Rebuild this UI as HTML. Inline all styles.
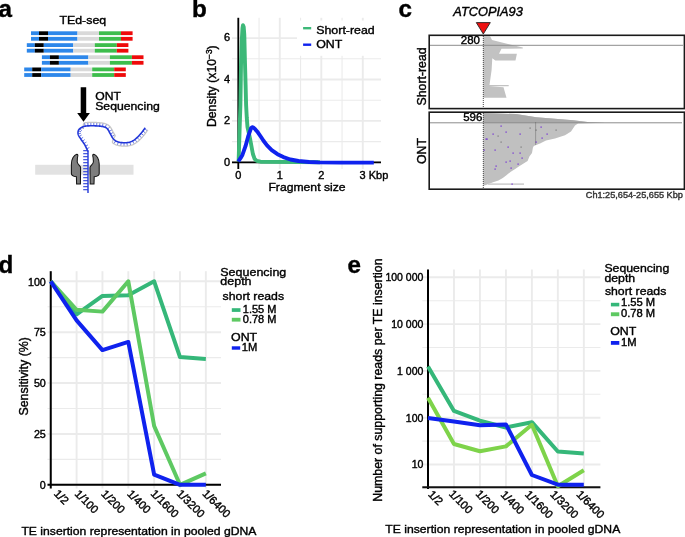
<!DOCTYPE html>
<html><head><meta charset="utf-8"><title>Figure</title>
<style>
html,body{margin:0;padding:0;background:#fff;}
body{width:685px;height:537px;overflow:hidden;}
svg{display:block;font-family:"Liberation Sans", sans-serif;will-change:transform;}
</style></head><body>
<svg width="685" height="537" viewBox="0 0 685 537">
<rect width="685" height="537" fill="#fff"/>
<text x="-1.50" y="17.10" font-size="24.2" font-weight="bold" stroke="#000" stroke-width="0.4">a</text>
<text x="59.40" y="24.30" font-size="12.4" stroke="#000" stroke-width="0.4" transform="matrix(1 0 0 0.93 0 1.701)">TEd-seq</text>
<rect x="31.00" y="31.30" width="8.00" height="3.80" fill="#2d87ea"/>
<rect x="39.00" y="31.30" width="9.00" height="3.80" fill="#000"/>
<rect x="48.00" y="31.30" width="29.50" height="3.80" fill="#2d87ea"/>
<rect x="77.50" y="31.30" width="21.50" height="3.80" fill="#d9d9d9"/>
<rect x="99.00" y="31.30" width="22.00" height="3.80" fill="#3dbd4c"/>
<rect x="121.00" y="31.30" width="11.60" height="3.80" fill="#ee0a0a"/>
<rect x="31.00" y="36.90" width="8.00" height="3.80" fill="#2d87ea"/>
<rect x="39.00" y="36.90" width="9.00" height="3.80" fill="#000"/>
<rect x="48.00" y="36.90" width="29.50" height="3.80" fill="#2d87ea"/>
<rect x="77.50" y="36.90" width="21.50" height="3.80" fill="#d9d9d9"/>
<rect x="99.00" y="36.90" width="22.00" height="3.80" fill="#3dbd4c"/>
<rect x="121.00" y="36.90" width="11.60" height="3.80" fill="#ee0a0a"/>
<rect x="26.80" y="43.20" width="8.00" height="3.80" fill="#2d87ea"/>
<rect x="34.80" y="43.20" width="9.00" height="3.80" fill="#000"/>
<rect x="43.80" y="43.20" width="29.50" height="3.80" fill="#2d87ea"/>
<rect x="73.30" y="43.20" width="21.50" height="3.80" fill="#d9d9d9"/>
<rect x="94.80" y="43.20" width="22.00" height="3.80" fill="#3dbd4c"/>
<rect x="116.80" y="43.20" width="11.60" height="3.80" fill="#ee0a0a"/>
<rect x="26.80" y="48.80" width="8.00" height="3.80" fill="#2d87ea"/>
<rect x="34.80" y="48.80" width="9.00" height="3.80" fill="#000"/>
<rect x="43.80" y="48.80" width="29.50" height="3.80" fill="#2d87ea"/>
<rect x="73.30" y="48.80" width="21.50" height="3.80" fill="#d9d9d9"/>
<rect x="94.80" y="48.80" width="22.00" height="3.80" fill="#3dbd4c"/>
<rect x="116.80" y="48.80" width="11.60" height="3.80" fill="#ee0a0a"/>
<rect x="41.90" y="55.30" width="8.00" height="3.80" fill="#2d87ea"/>
<rect x="49.90" y="55.30" width="9.00" height="3.80" fill="#000"/>
<rect x="58.90" y="55.30" width="29.50" height="3.80" fill="#2d87ea"/>
<rect x="88.40" y="55.30" width="21.50" height="3.80" fill="#d9d9d9"/>
<rect x="109.90" y="55.30" width="22.00" height="3.80" fill="#3dbd4c"/>
<rect x="131.90" y="55.30" width="11.60" height="3.80" fill="#ee0a0a"/>
<rect x="41.90" y="60.90" width="8.00" height="3.80" fill="#2d87ea"/>
<rect x="49.90" y="60.90" width="9.00" height="3.80" fill="#000"/>
<rect x="58.90" y="60.90" width="29.50" height="3.80" fill="#2d87ea"/>
<rect x="88.40" y="60.90" width="21.50" height="3.80" fill="#d9d9d9"/>
<rect x="109.90" y="60.90" width="22.00" height="3.80" fill="#3dbd4c"/>
<rect x="131.90" y="60.90" width="11.60" height="3.80" fill="#ee0a0a"/>
<rect x="24.20" y="67.50" width="8.00" height="3.80" fill="#2d87ea"/>
<rect x="32.20" y="67.50" width="9.00" height="3.80" fill="#000"/>
<rect x="41.20" y="67.50" width="29.50" height="3.80" fill="#2d87ea"/>
<rect x="70.70" y="67.50" width="21.50" height="3.80" fill="#d9d9d9"/>
<rect x="92.20" y="67.50" width="22.00" height="3.80" fill="#3dbd4c"/>
<rect x="114.20" y="67.50" width="11.60" height="3.80" fill="#ee0a0a"/>
<rect x="24.20" y="73.10" width="8.00" height="3.80" fill="#2d87ea"/>
<rect x="32.20" y="73.10" width="9.00" height="3.80" fill="#000"/>
<rect x="41.20" y="73.10" width="29.50" height="3.80" fill="#2d87ea"/>
<rect x="70.70" y="73.10" width="21.50" height="3.80" fill="#d9d9d9"/>
<rect x="92.20" y="73.10" width="22.00" height="3.80" fill="#3dbd4c"/>
<rect x="114.20" y="73.10" width="11.60" height="3.80" fill="#ee0a0a"/>
<path d="M80.7,87.3 H86.2 V113.1 H89.9 L83.5,121.8 L77.2,113.1 H80.7 Z" fill="#000"/>
<text x="95.20" y="99.60" font-size="12.2" stroke="#000" stroke-width="0.4" transform="matrix(1 0 0 0.93 0 6.972)">ONT</text>
<text x="95.20" y="109.90" font-size="12.25" stroke="#000" stroke-width="0.4" transform="matrix(1 0 0 0.93 0 7.693)">Sequencing</text>
<rect x="35.20" y="164.80" width="98.30" height="9.90" fill="#e2e2e2"/>
<polyline points="83.27,129.06 83.19,127.87 83.15,126.54 83.28,125.19 83.57,124.01 84.01,123.16 84.57,122.82 85.17,122.73 85.76,122.65 86.26,122.60 86.83,122.55 87.40,122.51 87.95,122.48 88.50,122.45 89.00,122.43 89.54,122.42 90.06,122.41 90.59,122.40 91.10,122.40 91.63,122.39 92.13,122.40 92.66,122.40 93.16,122.41 93.69,122.42 94.21,122.43 94.72,122.44 95.24,122.45 95.74,122.47 96.28,122.49 96.78,122.51 97.31,122.54 97.81,122.57 98.36,122.60 98.86,122.63 99.41,122.68 99.97,122.73 100.47,122.78 101.02,122.85 101.57,122.92 102.14,123.00 102.71,123.09 103.20,123.18 103.79,123.30 104.38,123.44 104.97,123.60 105.58,123.79 106.18,124.01 106.91,124.32 107.53,124.63 108.37,125.16 108.95,125.63 109.61,126.26 110.02,126.74 110.39,127.20 110.78,127.72 111.16,128.30 111.49,128.85 111.78,129.37 112.04,129.86 112.29,130.33 112.52,130.78 112.75,131.22 112.97,131.65 113.18,132.05 113.38,132.41 113.62,132.84 113.90,133.32 114.15,133.78 114.39,134.22 114.63,134.65 114.86,135.06 115.07,135.43 115.17,135.85 114.85,136.51 114.26,137.42 113.60,138.52 113.02,139.75 112.60,140.96 112.45,142.02 112.64,142.77 113.15,143.19 113.83,143.64 114.39,143.97 114.97,144.28 115.56,144.55 116.15,144.80 116.75,145.02 117.35,145.22 117.83,145.36 118.44,145.51 119.04,145.65 119.64,145.76 120.24,145.86 120.84,145.94 121.43,146.01 122.02,146.06 122.52,146.09 123.10,146.11 123.66,146.13 124.23,146.14 124.73,146.14 125.31,146.13 125.89,146.11 126.48,146.08 126.98,146.04 127.59,145.98 128.21,145.91 128.85,145.81 129.34,145.72 130.00,145.58 130.64,145.41 131.26,145.22 131.73,145.06 132.34,144.83 132.93,144.58 133.52,144.31 134.09,144.02 134.64,143.72 135.07,143.46 135.60,143.13 136.10,142.79 136.59,142.45 136.99,142.15 137.48,141.78 137.97,141.38 138.43,140.99 138.80,140.66 139.23,140.26 139.59,139.91 140.00,139.51 140.40,139.12 140.75,138.76 141.14,138.36 141.51,137.96 141.85,137.59 142.21,137.20 142.55,136.83 142.90,136.43 143.28,136.00 143.60,135.62 143.98,135.16 144.29,134.77 144.64,134.32 144.97,133.89 145.27,133.49 145.59,133.06 145.89,132.65 146.20,132.23 146.49,131.82 146.79,131.40 147.09,130.99 147.37,130.59 147.66,130.19 147.94,129.82" fill="none" stroke="#c8c8c8" stroke-width="1.3" stroke-linejoin="round"/>
<line x1="86.72" y1="148.79" x2="89.34" y2="147.56" stroke="#3a4edc" stroke-width="0.75"/>
<line x1="85.46" y1="146.17" x2="88.03" y2="144.85" stroke="#3a4edc" stroke-width="0.75"/>
<line x1="84.03" y1="143.65" x2="86.44" y2="142.06" stroke="#3a4edc" stroke-width="0.75"/>
<line x1="82.36" y1="141.28" x2="84.70" y2="139.58" stroke="#3a4edc" stroke-width="0.75"/>
<line x1="80.70" y1="138.90" x2="83.12" y2="137.33" stroke="#3a4edc" stroke-width="0.75"/>
<line x1="79.15" y1="136.46" x2="81.64" y2="135.00" stroke="#3a4edc" stroke-width="0.75"/>
<line x1="78.07" y1="133.79" x2="80.92" y2="133.33" stroke="#3a4edc" stroke-width="0.75"/>
<line x1="78.26" y1="130.92" x2="81.04" y2="131.71" stroke="#3a4edc" stroke-width="0.75"/>
<line x1="79.90" y1="128.59" x2="81.71" y2="130.85" stroke="#3a4edc" stroke-width="0.75"/>
<line x1="82.34" y1="127.03" x2="83.13" y2="128.61" stroke="#3a4edc" stroke-width="0.75"/>
<line x1="85.11" y1="126.18" x2="84.63" y2="123.33" stroke="#3a4edc" stroke-width="0.75"/>
<line x1="87.99" y1="125.88" x2="87.85" y2="122.99" stroke="#3a4edc" stroke-width="0.75"/>
<line x1="90.89" y1="125.80" x2="90.87" y2="122.91" stroke="#3a4edc" stroke-width="0.75"/>
<line x1="93.79" y1="125.82" x2="93.84" y2="122.93" stroke="#3a4edc" stroke-width="0.75"/>
<line x1="96.69" y1="125.91" x2="96.81" y2="123.03" stroke="#3a4edc" stroke-width="0.75"/>
<line x1="99.58" y1="126.11" x2="99.88" y2="123.23" stroke="#3a4edc" stroke-width="0.75"/>
<line x1="102.45" y1="126.50" x2="102.97" y2="123.66" stroke="#3a4edc" stroke-width="0.75"/>
<line x1="105.23" y1="127.30" x2="106.35" y2="124.63" stroke="#3a4edc" stroke-width="0.75"/>
<line x1="107.51" y1="129.03" x2="109.73" y2="127.18" stroke="#3a4edc" stroke-width="0.75"/>
<line x1="109.05" y1="131.48" x2="111.61" y2="130.14" stroke="#3a4edc" stroke-width="0.75"/>
<line x1="110.40" y1="134.05" x2="112.91" y2="132.62" stroke="#3a4edc" stroke-width="0.75"/>
<line x1="111.81" y1="136.58" x2="114.33" y2="135.17" stroke="#3a4edc" stroke-width="0.75"/>
<line x1="115.69" y1="140.79" x2="114.21" y2="143.27" stroke="#3a4edc" stroke-width="0.75"/>
<line x1="118.34" y1="141.96" x2="117.53" y2="144.74" stroke="#3a4edc" stroke-width="0.75"/>
<line x1="121.17" y1="142.56" x2="120.83" y2="145.43" stroke="#3a4edc" stroke-width="0.75"/>
<line x1="124.06" y1="142.74" x2="124.00" y2="145.63" stroke="#3a4edc" stroke-width="0.75"/>
<line x1="126.96" y1="142.63" x2="127.26" y2="145.50" stroke="#3a4edc" stroke-width="0.75"/>
<line x1="129.81" y1="142.11" x2="130.62" y2="144.88" stroke="#3a4edc" stroke-width="0.75"/>
<line x1="132.49" y1="141.02" x2="133.87" y2="143.56" stroke="#3a4edc" stroke-width="0.75"/>
<line x1="134.93" y1="139.45" x2="136.63" y2="141.79" stroke="#3a4edc" stroke-width="0.75"/>
<line x1="137.13" y1="137.57" x2="139.11" y2="139.67" stroke="#3a4edc" stroke-width="0.75"/>
<line x1="139.16" y1="135.50" x2="141.28" y2="137.46" stroke="#3a4edc" stroke-width="0.75"/>
<line x1="141.08" y1="133.33" x2="143.29" y2="135.20" stroke="#3a4edc" stroke-width="0.75"/>
<line x1="142.86" y1="131.04" x2="145.19" y2="132.75" stroke="#3a4edc" stroke-width="0.75"/>
<line x1="144.56" y1="128.69" x2="146.91" y2="130.37" stroke="#3a4edc" stroke-width="0.75"/>
<polyline points="88.00,151.50 87.97,151.43 87.94,151.36 87.91,151.29 87.87,151.20 87.82,151.10 87.76,150.97 87.69,150.80 87.59,150.59 87.46,150.32 87.30,150.00 87.11,149.61 86.89,149.14 86.65,148.62 86.38,148.05 86.09,147.45 85.79,146.83 85.48,146.20 85.16,145.58 84.83,144.97 84.50,144.40 84.15,143.84 83.78,143.28 83.39,142.71 82.99,142.14 82.58,141.58 82.17,141.02 81.78,140.47 81.39,139.93 81.03,139.41 80.70,138.90 80.39,138.41 80.07,137.93 79.77,137.46 79.48,137.00 79.20,136.55 78.94,136.11 78.71,135.67 78.51,135.25 78.33,134.82 78.20,134.40 78.10,133.98 78.03,133.56 78.00,133.14 77.98,132.73 78.00,132.33 78.04,131.93 78.10,131.55 78.18,131.18 78.28,130.83 78.40,130.50 78.54,130.19 78.70,129.90 78.89,129.62 79.10,129.36 79.33,129.11 79.57,128.88 79.83,128.65 80.11,128.43 80.40,128.21 80.70,128.00 81.01,127.79 81.33,127.59 81.66,127.39 82.00,127.20 82.36,127.03 82.74,126.86 83.14,126.70 83.57,126.55 84.02,126.42 84.50,126.30 85.00,126.20 85.53,126.11 86.07,126.04 86.64,125.98 87.23,125.92 87.85,125.88 88.49,125.85 89.16,125.83 89.87,125.81 90.60,125.80 91.39,125.79 92.26,125.80 93.17,125.81 94.12,125.82 95.09,125.85 96.05,125.88 96.99,125.93 97.89,125.98 98.74,126.03 99.50,126.10 100.20,126.17 100.86,126.25 101.48,126.34 102.07,126.43 102.63,126.53 103.16,126.64 103.66,126.76 104.13,126.90 104.57,127.04 105.00,127.20 105.39,127.36 105.73,127.52 106.04,127.69 106.31,127.87 106.57,128.06 106.81,128.27 107.05,128.50 107.28,128.76 107.53,129.06 107.80,129.40 108.08,129.79 108.36,130.23 108.64,130.71 108.92,131.22 109.20,131.76 109.48,132.30 109.76,132.85 110.04,133.39 110.32,133.91 110.60,134.40 110.88,134.88 111.14,135.36 111.41,135.84 111.67,136.32 111.93,136.79 112.20,137.25 112.48,137.70 112.77,138.12 113.08,138.53 113.40,138.90 113.74,139.25 114.08,139.58 114.44,139.89 114.80,140.19 115.18,140.46 115.57,140.72 115.98,140.96 116.40,141.19 116.84,141.40 117.30,141.60 117.78,141.78 118.28,141.95 118.79,142.10 119.33,142.23 119.87,142.35 120.44,142.45 121.01,142.54 121.60,142.61 122.19,142.66 122.80,142.70 123.43,142.73 124.08,142.74 124.76,142.74 125.45,142.73 126.15,142.69 126.85,142.64 127.54,142.57 128.22,142.47 128.87,142.35 129.50,142.20 130.10,142.03 130.68,141.83 131.24,141.61 131.78,141.38 132.32,141.11 132.85,140.82 133.38,140.51 133.91,140.17 134.45,139.80 135.00,139.40 135.56,138.96 136.13,138.48 136.70,137.97 137.28,137.42 137.86,136.86 138.43,136.27 138.99,135.68 139.54,135.08 140.08,134.49 140.60,133.90 141.12,133.29 141.66,132.62 142.20,131.92 142.73,131.21 143.25,130.51 143.74,129.83 144.19,129.20 144.59,128.64 144.93,128.17 145.20,127.80" fill="none" stroke="#2237d8" stroke-width="1.6" stroke-linejoin="round"/>
<line x1="88.00" y1="150.50" x2="88.00" y2="193.00" stroke="#2237d8" stroke-width="1.4"/>
<line x1="83.20" y1="150.70" x2="88.00" y2="150.70" stroke="#2a3ed8" stroke-width="1.1"/>
<line x1="83.20" y1="153.70" x2="88.00" y2="153.70" stroke="#2a3ed8" stroke-width="1.1"/>
<line x1="83.20" y1="156.70" x2="88.00" y2="156.70" stroke="#2a3ed8" stroke-width="1.1"/>
<line x1="83.20" y1="159.70" x2="88.00" y2="159.70" stroke="#2a3ed8" stroke-width="1.1"/>
<line x1="83.20" y1="162.70" x2="88.00" y2="162.70" stroke="#2a3ed8" stroke-width="1.1"/>
<line x1="83.20" y1="165.70" x2="88.00" y2="165.70" stroke="#2a3ed8" stroke-width="1.1"/>
<line x1="83.20" y1="168.70" x2="88.00" y2="168.70" stroke="#2a3ed8" stroke-width="1.1"/>
<line x1="83.20" y1="171.70" x2="88.00" y2="171.70" stroke="#2a3ed8" stroke-width="1.1"/>
<line x1="83.20" y1="174.70" x2="88.00" y2="174.70" stroke="#2a3ed8" stroke-width="1.1"/>
<line x1="83.20" y1="177.70" x2="88.00" y2="177.70" stroke="#2a3ed8" stroke-width="1.1"/>
<line x1="83.20" y1="180.70" x2="88.00" y2="180.70" stroke="#2a3ed8" stroke-width="1.1"/>
<line x1="83.20" y1="183.70" x2="88.00" y2="183.70" stroke="#2a3ed8" stroke-width="1.1"/>
<line x1="83.20" y1="186.70" x2="88.00" y2="186.70" stroke="#2a3ed8" stroke-width="1.1"/>
<line x1="83.20" y1="189.70" x2="88.00" y2="189.70" stroke="#2a3ed8" stroke-width="1.1"/>
<path d="M76.8,154.2 C74,155 71.4,159 71.4,164 L71.4,173.5 C71.4,175.5 74,176.5 76.4,176.8 L76.6,183.9 L80.4,183.9 L80.6,167.5 C80.6,165.5 77.4,164.5 77.2,162 L77.4,158.2 C77.6,156.5 78.6,154.2 76.8,154.2 Z" fill="#7e7e7e" stroke="#151515" stroke-width="1.05"/>
<g transform="translate(170.6,0) scale(-1,1)"><path d="M76.8,154.2 C74,155 71.4,159 71.4,164 L71.4,173.5 C71.4,175.5 74,176.5 76.4,176.8 L76.6,183.9 L80.4,183.9 L80.6,167.5 C80.6,165.5 77.4,164.5 77.2,162 L77.4,158.2 C77.6,156.5 78.6,154.2 76.8,154.2 Z" fill="#7e7e7e" stroke="#151515" stroke-width="1.05"/></g>
<text x="192.00" y="17.10" font-size="24.2" font-weight="bold" stroke="#000" stroke-width="0.4">b</text>
<line x1="232.00" y1="162.30" x2="381.00" y2="162.30" stroke="#ebebeb" stroke-width="1.9"/>
<line x1="232.00" y1="141.60" x2="381.00" y2="141.60" stroke="#ebebeb" stroke-width="1.1"/>
<line x1="232.00" y1="120.90" x2="381.00" y2="120.90" stroke="#ebebeb" stroke-width="1.9"/>
<line x1="232.00" y1="100.20" x2="381.00" y2="100.20" stroke="#ebebeb" stroke-width="1.1"/>
<line x1="232.00" y1="79.50" x2="381.00" y2="79.50" stroke="#ebebeb" stroke-width="1.9"/>
<line x1="232.00" y1="58.80" x2="381.00" y2="58.80" stroke="#ebebeb" stroke-width="1.1"/>
<line x1="232.00" y1="38.10" x2="381.00" y2="38.10" stroke="#ebebeb" stroke-width="1.9"/>
<line x1="238.30" y1="17.80" x2="238.30" y2="169.00" stroke="#ebebeb" stroke-width="1.9"/>
<line x1="259.05" y1="17.80" x2="259.05" y2="169.00" stroke="#ebebeb" stroke-width="1.1"/>
<line x1="279.80" y1="17.80" x2="279.80" y2="169.00" stroke="#ebebeb" stroke-width="1.9"/>
<line x1="300.55" y1="17.80" x2="300.55" y2="169.00" stroke="#ebebeb" stroke-width="1.1"/>
<line x1="321.30" y1="17.80" x2="321.30" y2="169.00" stroke="#ebebeb" stroke-width="1.9"/>
<line x1="342.05" y1="17.80" x2="342.05" y2="169.00" stroke="#ebebeb" stroke-width="1.1"/>
<line x1="362.80" y1="17.80" x2="362.80" y2="169.00" stroke="#ebebeb" stroke-width="1.9"/>
<rect x="297.00" y="20.60" width="88.00" height="35.20" fill="#fff"/>
<line x1="238.30" y1="17.80" x2="238.30" y2="169.00" stroke="#000" stroke-width="1.8"/>
<line x1="232.00" y1="162.30" x2="381.00" y2="162.30" stroke="#000" stroke-width="1.8"/>
<polyline points="238.60,161.50 239.60,130.00 240.40,105.00 241.00,65.00 241.80,40.00 242.50,28.00 243.00,25.20 243.70,27.00 244.30,35.00 244.90,60.00 245.60,85.00 246.10,105.00 246.80,118.00 247.50,127.00 250.30,140.00 252.90,154.00 254.60,158.80 256.80,160.90 260.50,161.70 300.00,162.00 320.00,162.20" fill="none" stroke="#3cb878" stroke-width="3.9" stroke-linejoin="round"/>
<polyline points="238.30,161.50 240.50,158.20 242.50,154.70 245.50,146.20 248.50,135.30 251.00,128.30 252.20,127.20 253.50,127.60 255.20,129.20 258.00,132.60 260.70,136.50 263.50,140.80 267.00,145.40 271.70,150.10 277.50,154.20 283.40,157.10 290.40,159.50 298.50,161.00 309.00,162.00 318.40,162.40 340.00,162.60 373.80,162.60" fill="none" stroke="#0f22ee" stroke-width="3.9" stroke-linejoin="round"/>
<text x="230.00" y="165.50" font-size="11" text-anchor="end" stroke="#000" stroke-width="0.4" transform="matrix(1 0 0 0.93 0 11.585)">0</text>
<text x="230.00" y="124.10" font-size="11" text-anchor="end" stroke="#000" stroke-width="0.4" transform="matrix(1 0 0 0.93 0 8.687)">2</text>
<text x="230.00" y="82.70" font-size="11" text-anchor="end" stroke="#000" stroke-width="0.4" transform="matrix(1 0 0 0.93 0 5.789)">4</text>
<text x="230.00" y="41.30" font-size="11" text-anchor="end" stroke="#000" stroke-width="0.4" transform="matrix(1 0 0 0.93 0 2.891)">6</text>
<text x="238.30" y="178.80" font-size="11" text-anchor="middle" stroke="#000" stroke-width="0.4" transform="matrix(1 0 0 0.93 0 12.516)">0</text>
<text x="279.80" y="178.80" font-size="11" text-anchor="middle" stroke="#000" stroke-width="0.4" transform="matrix(1 0 0 0.93 0 12.516)">1</text>
<text x="321.30" y="178.80" font-size="11" text-anchor="middle" stroke="#000" stroke-width="0.4" transform="matrix(1 0 0 0.93 0 12.516)">2</text>
<text x="359.60" y="178.80" font-size="11" stroke="#000" stroke-width="0.4" transform="matrix(1 0 0 0.93 0 12.516)">3 Kbp</text>
<text x="307.00" y="190.60" font-size="12.2" text-anchor="middle" stroke="#000" stroke-width="0.4" transform="matrix(1 0 0 0.93 0 13.342)">Fragment size</text>
<text x="215.90" y="86.20" font-size="12.25" text-anchor="middle" stroke="#000" stroke-width="0.4" transform="rotate(-90 215.90 86.20)">Density (x10<tspan font-size="8.3" dy="-3.6">−3</tspan><tspan dy="3.6">)</tspan></text>
<line x1="303.10" y1="28.20" x2="311.20" y2="28.20" stroke="#3cb878" stroke-width="2.4"/>
<line x1="303.10" y1="44.70" x2="311.20" y2="44.70" stroke="#0f22ee" stroke-width="2.4"/>
<text x="316.20" y="33.80" font-size="12.4" stroke="#000" stroke-width="0.4" transform="matrix(1 0 0 0.93 0 2.366)">Short-read</text>
<text x="316.20" y="48.50" font-size="12.4" stroke="#000" stroke-width="0.4" transform="matrix(1 0 0 0.93 0 3.395)">ONT</text>
<text x="398.60" y="17.10" font-size="24.2" font-weight="bold" stroke="#000" stroke-width="0.4">c</text>
<text x="453.30" y="16.40" font-size="12.8" font-style="italic" stroke="#000" stroke-width="0.4" transform="matrix(1 0 0 0.93 0 1.148)">ATCOPIA93</text>
<rect x="429.2" y="35.3" width="255.2" height="73.3" fill="#fff" stroke="#1a1a1a" stroke-width="1.6"/>
<rect x="429.2" y="112.2" width="255.2" height="77.0" fill="#fff" stroke="#1a1a1a" stroke-width="1.6"/>
<path d="M483.3,36 L490,36 L492,40 L522.8,47.6 L522.8,48.6 L501.5,48.8 L499,53.8 L516.9,53.8 L515.5,60.5 L495.3,60.5 L492.3,58.3 L491.6,70 L489.5,85 L508.7,85 L508.7,86.2 L489.4,86.2 L503.5,87.3 L506.5,97.7 L483.3,97.7 Z" fill="#c2c2c2"/>
<line x1="430.00" y1="45.30" x2="683.00" y2="45.30" stroke="#8c8c8c" stroke-width="1.0"/>
<path d="M483.3,113.1 L515.9,114.1 L536.3,117.2 L573.1,120.3 L589.4,122.3 L604.8,122.8 L578,123.5 L575,125.4 L571,131.5 L565,135.2 L555,138.5 L546,140.5 L540,143.5 L535.6,145.3 L533.8,146 L532.9,147.8 L532,153.1 L529.4,156.6 L527.6,161 L523.2,163.7 L518.8,166.4 L515.2,169 L510.8,171.7 L506.4,175.2 L502.8,177.9 L498.4,180.5 L493.1,182.3 L486,185 L483.3,185.8 Z" fill="#c0c0c0"/>
<path d="M483.3,113.1 L515.9,114.1 L536.3,117.2 L573.1,120.3 L589.4,122.3 L604.8,122.8 L483.3,122.8 Z" fill="#aaaaaa"/>
<rect x="488" y="183.4" width="36" height="1.4" fill="#c8c8c8"/>
<line x1="430.00" y1="122.80" x2="682.00" y2="122.80" stroke="#8c8c8c" stroke-width="1.0"/>
<rect x="500.50" y="125.50" width="1.20" height="1.20" fill="#6b22d6"/>
<rect x="492.50" y="133.50" width="1.20" height="1.20" fill="#6b22d6"/>
<rect x="505.50" y="131.50" width="1.20" height="1.20" fill="#6b22d6"/>
<rect x="519.50" y="133.50" width="1.20" height="1.20" fill="#6b22d6"/>
<rect x="485.50" y="138.50" width="1.20" height="1.20" fill="#6b22d6"/>
<rect x="540.50" y="126.50" width="1.20" height="1.20" fill="#6b22d6"/>
<rect x="546.50" y="133.50" width="1.20" height="1.20" fill="#6b22d6"/>
<rect x="541.50" y="137.50" width="1.20" height="1.20" fill="#6b22d6"/>
<rect x="535.50" y="141.50" width="1.20" height="1.20" fill="#6b22d6"/>
<rect x="507.50" y="146.50" width="1.20" height="1.20" fill="#6b22d6"/>
<rect x="494.50" y="149.50" width="1.20" height="1.20" fill="#6b22d6"/>
<rect x="483.50" y="149.50" width="1.20" height="1.20" fill="#6b22d6"/>
<rect x="512.50" y="152.50" width="1.20" height="1.20" fill="#6b22d6"/>
<rect x="519.50" y="152.50" width="1.20" height="1.20" fill="#6b22d6"/>
<rect x="521.50" y="157.50" width="1.20" height="1.20" fill="#6b22d6"/>
<rect x="509.50" y="160.50" width="1.20" height="1.20" fill="#6b22d6"/>
<rect x="505.50" y="161.50" width="1.20" height="1.20" fill="#6b22d6"/>
<rect x="517.50" y="163.50" width="1.20" height="1.20" fill="#6b22d6"/>
<rect x="495.50" y="165.50" width="1.20" height="1.20" fill="#6b22d6"/>
<rect x="510.50" y="167.50" width="1.20" height="1.20" fill="#6b22d6"/>
<rect x="494.50" y="168.50" width="1.20" height="1.20" fill="#6b22d6"/>
<rect x="511.50" y="183.50" width="1.20" height="1.20" fill="#6b22d6"/>
<rect x="486.50" y="138.50" width="1.20" height="1.20" fill="#6b22d6"/>
<rect x="535.50" y="129.50" width="1.20" height="1.20" fill="#777"/>
<rect x="555.50" y="129.50" width="1.20" height="1.20" fill="#777"/>
<rect x="500.50" y="141.50" width="1.20" height="1.20" fill="#777"/>
<rect x="520.50" y="146.50" width="1.20" height="1.20" fill="#777"/>
<rect x="497.50" y="135.50" width="1.20" height="1.20" fill="#777"/>
<rect x="529.50" y="127.50" width="1.20" height="1.20" fill="#777"/>
<line x1="535.60" y1="122.50" x2="535.60" y2="145.00" stroke="#555" stroke-width="0.8" stroke-dasharray="1 1"/>
<line x1="483.30" y1="36.00" x2="483.30" y2="108.00" stroke="#333" stroke-width="0.9" stroke-dasharray="1 1"/>
<line x1="483.30" y1="113.00" x2="483.30" y2="188.50" stroke="#333" stroke-width="0.9" stroke-dasharray="1 1"/>
<path d="M476.3,22.6 L490.3,22.6 L483.3,34 Z" fill="#ee1111" stroke="#222" stroke-width="0.9" stroke-linejoin="miter"/>
<text x="480.00" y="43.90" font-size="11.5" text-anchor="end" stroke="#000" stroke-width="0.4" transform="matrix(1 0 0 0.93 0 3.073)">280</text>
<text x="482.40" y="121.40" font-size="11.5" text-anchor="end" stroke="#000" stroke-width="0.4" transform="matrix(1 0 0 0.93 0 8.498)">596</text>
<text x="426.30" y="76.40" font-size="12.3" text-anchor="middle" stroke="#000" stroke-width="0.4" transform="rotate(-90 426.30 76.40)">Short-read</text>
<text x="425.80" y="151.00" font-size="12.3" text-anchor="middle" stroke="#000" stroke-width="0.4" transform="rotate(-90 425.80 151.00)">ONT</text>
<text x="682.90" y="197.80" font-size="9.15" text-anchor="end" fill="#333" stroke="#333" stroke-width="0.4" transform="matrix(1 0 0 0.93 0 13.846)">Ch1:25,654-25,655 Kbp</text>
<text x="-1.50" y="272.90" font-size="24.2" font-weight="bold" stroke="#000" stroke-width="0.4">d</text>
<line x1="47.50" y1="484.80" x2="221.00" y2="484.80" stroke="#ebebeb" stroke-width="1.9"/>
<line x1="47.50" y1="459.36" x2="221.00" y2="459.36" stroke="#ebebeb" stroke-width="1.1"/>
<line x1="47.50" y1="433.93" x2="221.00" y2="433.93" stroke="#ebebeb" stroke-width="1.9"/>
<line x1="47.50" y1="408.49" x2="221.00" y2="408.49" stroke="#ebebeb" stroke-width="1.1"/>
<line x1="47.50" y1="383.05" x2="221.00" y2="383.05" stroke="#ebebeb" stroke-width="1.9"/>
<line x1="47.50" y1="357.61" x2="221.00" y2="357.61" stroke="#ebebeb" stroke-width="1.1"/>
<line x1="47.50" y1="332.18" x2="221.00" y2="332.18" stroke="#ebebeb" stroke-width="1.9"/>
<line x1="47.50" y1="306.74" x2="221.00" y2="306.74" stroke="#ebebeb" stroke-width="1.1"/>
<line x1="47.50" y1="281.30" x2="221.00" y2="281.30" stroke="#ebebeb" stroke-width="1.9"/>
<line x1="50.75" y1="271.20" x2="50.75" y2="488.50" stroke="#ebebeb" stroke-width="1.9"/>
<line x1="76.60" y1="271.20" x2="76.60" y2="488.50" stroke="#ebebeb" stroke-width="1.9"/>
<line x1="102.45" y1="271.20" x2="102.45" y2="488.50" stroke="#ebebeb" stroke-width="1.9"/>
<line x1="128.30" y1="271.20" x2="128.30" y2="488.50" stroke="#ebebeb" stroke-width="1.9"/>
<line x1="154.15" y1="271.20" x2="154.15" y2="488.50" stroke="#ebebeb" stroke-width="1.9"/>
<line x1="180.00" y1="271.20" x2="180.00" y2="488.50" stroke="#ebebeb" stroke-width="1.9"/>
<line x1="205.85" y1="271.20" x2="205.85" y2="488.50" stroke="#ebebeb" stroke-width="1.9"/>
<line x1="50.75" y1="271.20" x2="50.75" y2="488.50" stroke="#000" stroke-width="2.0"/>
<line x1="47.50" y1="484.80" x2="221.00" y2="484.80" stroke="#000" stroke-width="2.0"/>
<polyline points="50.75,281.30 76.60,314.27 102.45,295.95 128.30,295.14 154.15,281.30 180.00,357.10 205.85,359.04" fill="none" stroke="#35b779" stroke-width="4.0" stroke-linejoin="round"/>
<polyline points="50.75,281.30 76.60,309.79 102.45,311.62 128.30,281.30 154.15,425.99 180.00,484.80 205.85,473.40" fill="none" stroke="#5ec962" stroke-width="4.0" stroke-linejoin="round"/>
<polyline points="50.75,281.30 76.60,320.37 102.45,350.08 128.30,341.94 154.15,474.62 180.00,484.80 205.85,484.80" fill="none" stroke="#0f22ee" stroke-width="4.0" stroke-linejoin="round"/>
<text x="45.80" y="489.00" font-size="10.7" text-anchor="end" stroke="#000" stroke-width="0.4">0</text>
<text x="45.80" y="438.12" font-size="10.7" text-anchor="end" stroke="#000" stroke-width="0.4">25</text>
<text x="45.80" y="387.25" font-size="10.7" text-anchor="end" stroke="#000" stroke-width="0.4">50</text>
<text x="45.80" y="336.38" font-size="10.7" text-anchor="end" stroke="#000" stroke-width="0.4">75</text>
<text x="45.80" y="285.50" font-size="10.7" text-anchor="end" stroke="#000" stroke-width="0.4">100</text>
<text x="58.65" y="499.70" font-size="11.2" text-anchor="middle" stroke="#000" stroke-width="0.4" transform="rotate(45 58.65 499.70)">1/2</text>
<text x="84.00" y="504.30" font-size="11.2" text-anchor="middle" stroke="#000" stroke-width="0.4" transform="rotate(45 84.00 504.30)">1/100</text>
<text x="110.45" y="504.30" font-size="11.2" text-anchor="middle" stroke="#000" stroke-width="0.4" transform="rotate(45 110.45 504.30)">1/200</text>
<text x="136.35" y="504.30" font-size="11.2" text-anchor="middle" stroke="#000" stroke-width="0.4" transform="rotate(45 136.35 504.30)">1/400</text>
<text x="162.15" y="506.30" font-size="11.2" text-anchor="middle" stroke="#000" stroke-width="0.4" transform="rotate(45 162.15 506.30)">1/1600</text>
<text x="188.10" y="506.30" font-size="11.2" text-anchor="middle" stroke="#000" stroke-width="0.4" transform="rotate(45 188.10 506.30)">1/3200</text>
<text x="213.85" y="506.30" font-size="11.2" text-anchor="middle" stroke="#000" stroke-width="0.4" transform="rotate(45 213.85 506.30)">1/6400</text>
<text x="138.90" y="534.60" font-size="12.2" text-anchor="middle" stroke="#000" stroke-width="0.4" transform="matrix(1 0 0 0.93 0 37.422)">TE insertion representation in pooled gDNA</text>
<text x="28.50" y="376.30" font-size="12.4" text-anchor="middle" stroke="#000" stroke-width="0.4" transform="rotate(-90 28.50 376.30)">Sensitivity (%)</text>
<text x="220.30" y="275.90" font-size="12.5" stroke="#000" stroke-width="0.4" transform="matrix(1 0 0 0.93 0 19.313)">Sequencing</text>
<text x="220.30" y="285.50" font-size="12.5" stroke="#000" stroke-width="0.4" transform="matrix(1 0 0 0.93 0 19.985)">depth</text>
<text x="222.60" y="300.40" font-size="12.3" stroke="#000" stroke-width="0.4" transform="matrix(1 0 0 0.93 0 21.028)">short reads</text>
<rect x="231.80" y="308.20" width="8.70" height="3.70" fill="#35b779"/>
<rect x="231.80" y="317.80" width="8.70" height="3.80" fill="#5ec962"/>
<text x="242.80" y="313.00" font-size="11.0" stroke="#000" stroke-width="0.4" transform="matrix(1 0 0 0.93 0 21.910)">1.55 M</text>
<text x="242.80" y="322.70" font-size="11.0" stroke="#000" stroke-width="0.4" transform="matrix(1 0 0 0.93 0 22.589)">0.78 M</text>
<text x="231.00" y="341.30" font-size="12.4" stroke="#000" stroke-width="0.4" transform="matrix(1 0 0 0.93 0 23.891)">ONT</text>
<rect x="231.80" y="346.30" width="8.40" height="3.40" fill="#0f22ee"/>
<text x="241.80" y="351.30" font-size="11.2" stroke="#000" stroke-width="0.4" transform="matrix(1 0 0 0.93 0 24.591)">1M</text>
<text x="347.50" y="272.90" font-size="24.2" font-weight="bold" stroke="#000" stroke-width="0.4">e</text>
<line x1="422.30" y1="464.50" x2="600.40" y2="464.50" stroke="#ebebeb" stroke-width="1.9"/>
<line x1="422.30" y1="487.90" x2="600.40" y2="487.90" stroke="#ebebeb" stroke-width="1.1"/>
<line x1="422.30" y1="417.70" x2="600.40" y2="417.70" stroke="#ebebeb" stroke-width="1.9"/>
<line x1="422.30" y1="441.10" x2="600.40" y2="441.10" stroke="#ebebeb" stroke-width="1.1"/>
<line x1="422.30" y1="370.90" x2="600.40" y2="370.90" stroke="#ebebeb" stroke-width="1.9"/>
<line x1="422.30" y1="394.30" x2="600.40" y2="394.30" stroke="#ebebeb" stroke-width="1.1"/>
<line x1="422.30" y1="324.10" x2="600.40" y2="324.10" stroke="#ebebeb" stroke-width="1.9"/>
<line x1="422.30" y1="347.50" x2="600.40" y2="347.50" stroke="#ebebeb" stroke-width="1.1"/>
<line x1="422.30" y1="277.30" x2="600.40" y2="277.30" stroke="#ebebeb" stroke-width="1.9"/>
<line x1="422.30" y1="300.70" x2="600.40" y2="300.70" stroke="#ebebeb" stroke-width="1.1"/>
<line x1="428.00" y1="269.50" x2="428.00" y2="489.00" stroke="#ebebeb" stroke-width="1.9"/>
<line x1="453.97" y1="269.50" x2="453.97" y2="489.00" stroke="#ebebeb" stroke-width="1.9"/>
<line x1="479.94" y1="269.50" x2="479.94" y2="489.00" stroke="#ebebeb" stroke-width="1.9"/>
<line x1="505.91" y1="269.50" x2="505.91" y2="489.00" stroke="#ebebeb" stroke-width="1.9"/>
<line x1="531.88" y1="269.50" x2="531.88" y2="489.00" stroke="#ebebeb" stroke-width="1.9"/>
<line x1="557.85" y1="269.50" x2="557.85" y2="489.00" stroke="#ebebeb" stroke-width="1.9"/>
<line x1="583.82" y1="269.50" x2="583.82" y2="489.00" stroke="#ebebeb" stroke-width="1.9"/>
<line x1="428.00" y1="269.50" x2="428.00" y2="489.00" stroke="#000" stroke-width="2.0"/>
<line x1="422.30" y1="487.30" x2="600.40" y2="487.30" stroke="#111" stroke-width="2.0"/>
<polyline points="428.00,366.50 453.97,410.90 479.94,420.70 505.91,427.50 531.88,422.20 557.85,451.50 583.82,453.50" fill="none" stroke="#35b779" stroke-width="4.0" stroke-linejoin="round"/>
<polyline points="428.00,397.80 453.97,444.00 479.94,451.30 505.91,446.40 531.88,424.80 557.85,486.30 583.82,470.30" fill="none" stroke="#7ed34a" stroke-width="4.0" stroke-linejoin="round"/>
<polyline points="428.00,417.90 453.97,421.50 479.94,425.20 505.91,424.40 531.88,475.00 557.85,484.70 583.82,484.70" fill="none" stroke="#0f22ee" stroke-width="4.0" stroke-linejoin="round"/>
<text x="423.40" y="281.20" font-size="10.5" text-anchor="end" stroke="#000" stroke-width="0.4">100 000</text>
<text x="423.40" y="328.00" font-size="10.5" text-anchor="end" stroke="#000" stroke-width="0.4">10 000</text>
<text x="423.40" y="374.80" font-size="10.5" text-anchor="end" stroke="#000" stroke-width="0.4">1 000</text>
<text x="423.40" y="421.60" font-size="10.5" text-anchor="end" stroke="#000" stroke-width="0.4">100</text>
<text x="423.40" y="468.40" font-size="10.5" text-anchor="end" stroke="#000" stroke-width="0.4">10</text>
<text x="432.90" y="500.50" font-size="11.2" text-anchor="middle" stroke="#000" stroke-width="0.4" transform="rotate(45 432.90 500.50)">1/2</text>
<text x="458.27" y="504.50" font-size="11.2" text-anchor="middle" stroke="#000" stroke-width="0.4" transform="rotate(45 458.27 504.50)">1/100</text>
<text x="484.84" y="504.50" font-size="11.2" text-anchor="middle" stroke="#000" stroke-width="0.4" transform="rotate(45 484.84 504.50)">1/200</text>
<text x="509.86" y="505.10" font-size="11.2" text-anchor="middle" stroke="#000" stroke-width="0.4" transform="rotate(45 509.86 505.10)">1/400</text>
<text x="536.23" y="507.10" font-size="11.2" text-anchor="middle" stroke="#000" stroke-width="0.4" transform="rotate(45 536.23 507.10)">1/1600</text>
<text x="561.70" y="507.10" font-size="11.2" text-anchor="middle" stroke="#000" stroke-width="0.4" transform="rotate(45 561.70 507.10)">1/3200</text>
<text x="587.77" y="507.10" font-size="11.2" text-anchor="middle" stroke="#000" stroke-width="0.4" transform="rotate(45 587.77 507.10)">1/6400</text>
<text x="502.80" y="532.80" font-size="12.2" text-anchor="middle" stroke="#000" stroke-width="0.4" transform="matrix(1 0 0 0.93 0 37.296)">TE insertion representation in pooled gDNA</text>
<text x="381.90" y="380.10" font-size="12.35" text-anchor="middle" stroke="#000" stroke-width="0.4" transform="rotate(-90 381.90 380.10)">Number of supporting reads per TE insertion</text>
<text x="604.40" y="272.20" font-size="12.3" stroke="#000" stroke-width="0.4" transform="matrix(1 0 0 0.93 0 19.054)">Sequencing</text>
<text x="604.40" y="281.90" font-size="12.3" stroke="#000" stroke-width="0.4" transform="matrix(1 0 0 0.93 0 19.733)">depth</text>
<text x="604.90" y="295.20" font-size="12.3" stroke="#000" stroke-width="0.4" transform="matrix(1 0 0 0.93 0 20.664)">short reads</text>
<rect x="610.90" y="302.80" width="8.40" height="3.60" fill="#35b779"/>
<rect x="610.90" y="312.30" width="8.40" height="3.90" fill="#5ec962"/>
<text x="621.00" y="306.50" font-size="11.2" stroke="#000" stroke-width="0.4" transform="matrix(1 0 0 0.93 0 21.455)">1.55 M</text>
<text x="621.00" y="316.60" font-size="11.2" stroke="#000" stroke-width="0.4" transform="matrix(1 0 0 0.93 0 22.162)">0.78 M</text>
<text x="610.20" y="335.50" font-size="12.4" stroke="#000" stroke-width="0.4" transform="matrix(1 0 0 0.93 0 23.485)">ONT</text>
<rect x="610.90" y="341.00" width="8.40" height="3.80" fill="#0f22ee"/>
<text x="621.00" y="345.80" font-size="11.2" stroke="#000" stroke-width="0.4" transform="matrix(1 0 0 0.93 0 24.206)">1M</text>
</svg>
</body></html>
